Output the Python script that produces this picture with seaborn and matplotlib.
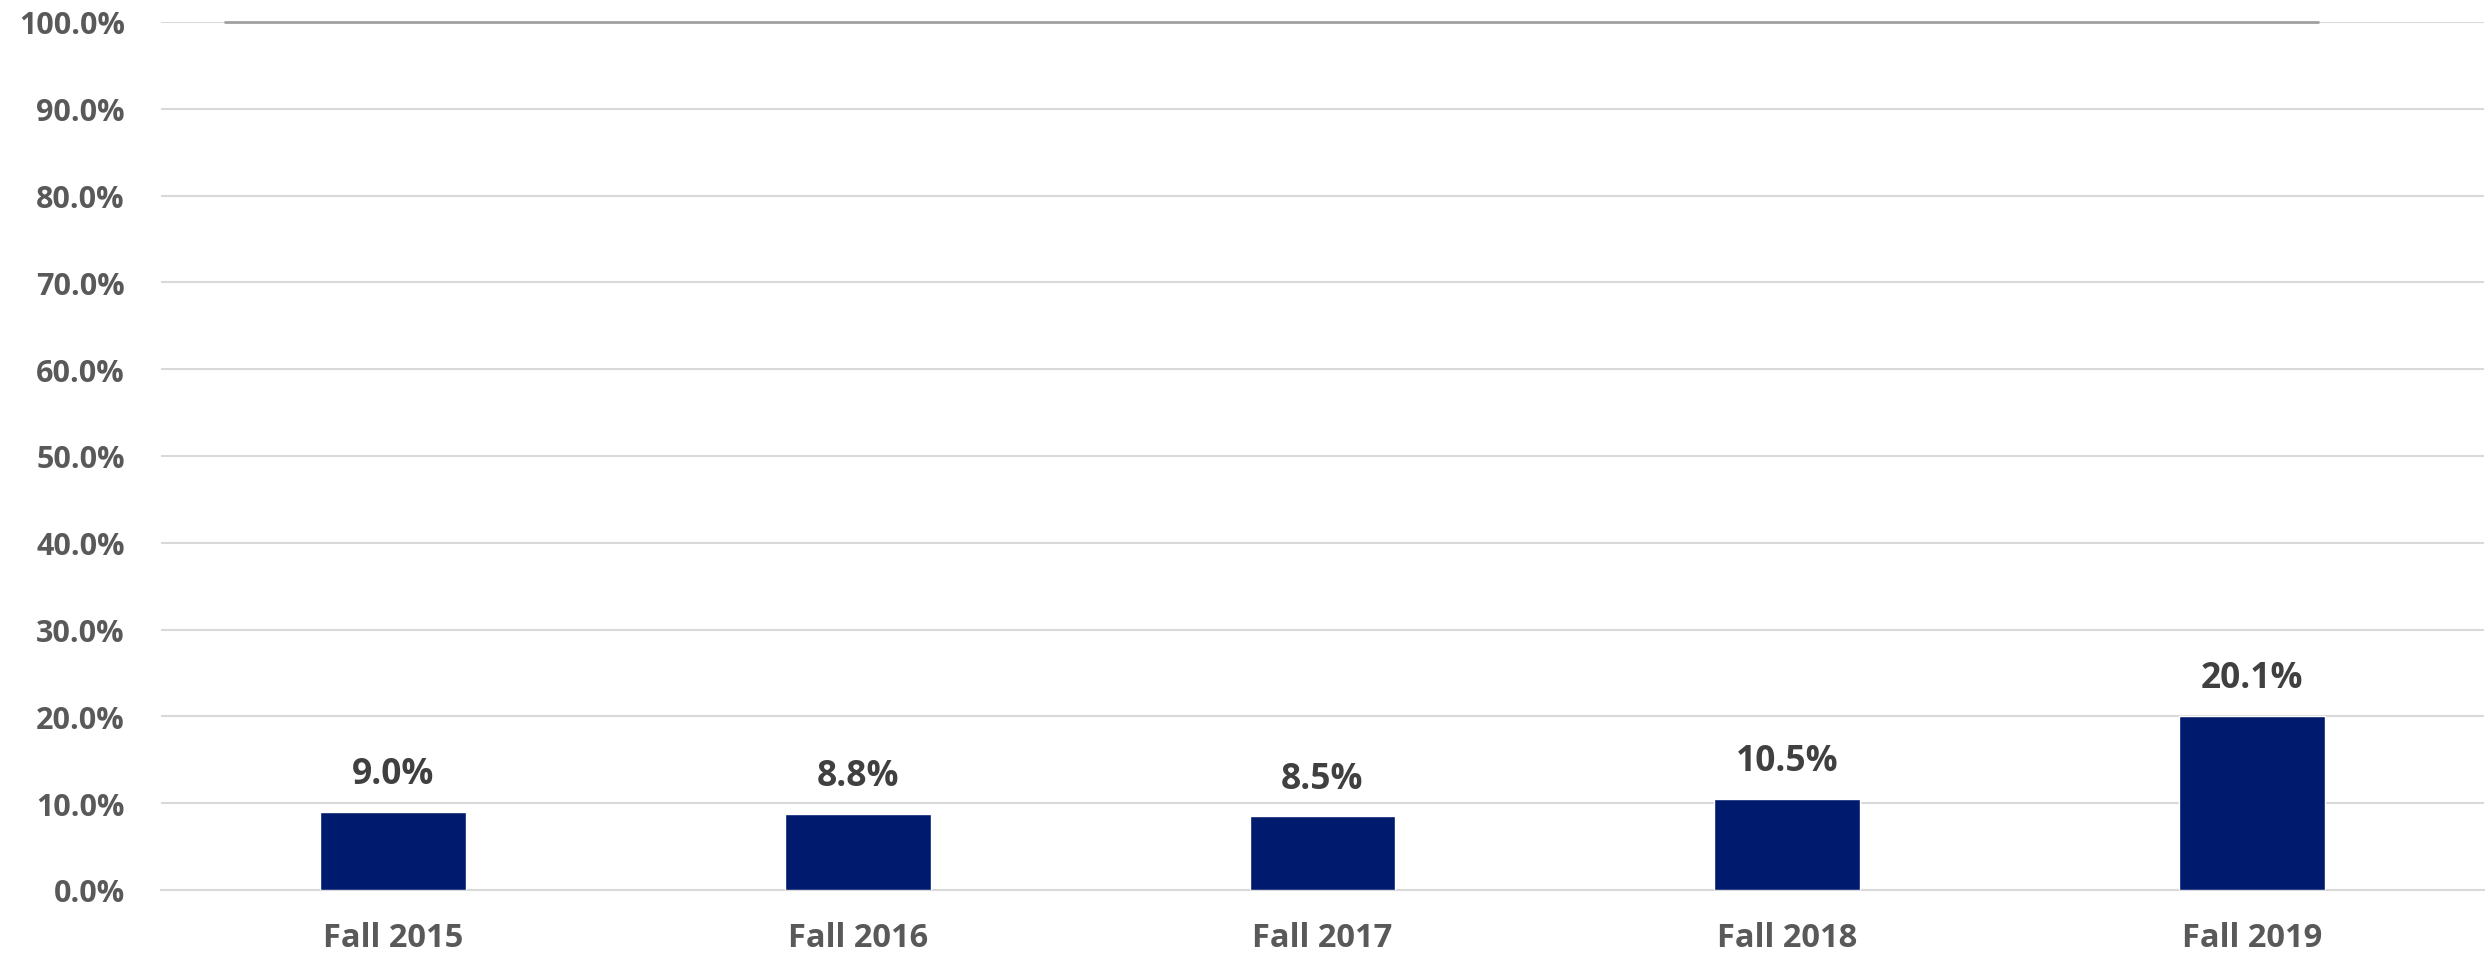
import matplotlib
matplotlib.use("Agg")
import matplotlib.pyplot as plt
import seaborn as sns
import pandas as pd

# Data
terms = ["Fall 2015", "Fall 2016", "Fall 2017", "Fall 2018", "Fall 2019"]
rates = [9.0, 8.8, 8.5, 10.5, 20.1]
target = 100.0

df = pd.DataFrame({"term": terms, "rate": rates})

sns.set_theme(style="white")
plt.rcParams["font.family"] = ["Open Sans", "DejaVu Sans"]

fig = plt.figure(figsize=(24.89, 9.5599), dpi=100)
ax = fig.add_axes([161 / 2489, 65 / 956, (2484 - 161) / 2489, (891 - 23) / 956])

sns.barplot(data=df, x="term", y="rate", color="#001A6E", width=0.314,
            saturation=1, ax=ax, zorder=3)

# grid
ax.set_ylim(0, 100)
ax.set_xlim(-0.5, 4.5)
ax.set_yticks(range(0, 101, 10))
ax.set_yticklabels([f"{v:.1f}%" for v in range(0, 101, 10)])
ax.yaxis.grid(True, color="#d9d9d9", linewidth=1.5, zorder=0)
ax.xaxis.grid(False)
for side in ["top", "right", "left"]:
    ax.spines[side].set_visible(False)
ax.spines["bottom"].set_color("#d9d9d9")
ax.spines["bottom"].set_linewidth(1.5)

# top reference line
ax.axhline(target, xmin=(225 - 161) / 2323, xmax=(2318 - 161) / 2323,
           color="#a0a0a0", linewidth=2, zorder=4, clip_on=False)

ax.tick_params(axis="y", length=0, pad=26, labelsize=22, labelcolor="#595959")
ax.tick_params(axis="x", length=0, pad=22, labelsize=23.5, labelcolor="#595959")
for lab in ax.get_yticklabels() + ax.get_xticklabels():
    lab.set_fontweight("bold")
ax.set_xlabel("")
ax.set_ylabel("")

for i, v in enumerate(rates):
    ax.annotate(f"{v:.1f}%", (i, v), xytext=(0, 14), textcoords="offset points",
                ha="center", va="bottom", fontsize=25.5, fontweight="bold",
                color="#404040")

fig.savefig("out.png", dpi=100, facecolor="white")
